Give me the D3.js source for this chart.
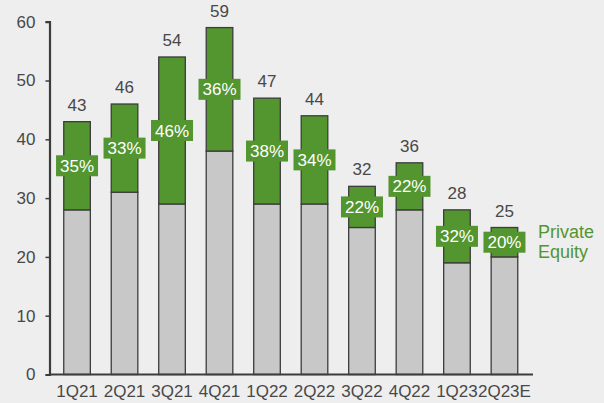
<!DOCTYPE html>
<html>
<head>
<meta charset="utf-8">
<script src="https://cdn.jsdelivr.net/npm/d3@7"></script>
<style>
  html, body { margin: 0; padding: 0; background: #eeeeee; }
  svg { display: block; font-family: "Liberation Sans", Arial, sans-serif; }
</style>
</head>
<body>
<svg id="chart" width="604" height="403"></svg>
<script>
// Quarterly totals, with the non-PE base and the private equity share
const quarters = ["1Q21", "2Q21", "3Q21", "4Q21", "1Q22", "2Q22", "3Q22", "4Q22", "1Q23", "2Q23E"];
const totals   = [43, 46, 54, 59, 47, 44, 32, 36, 28, 25];
const baseVals = [28, 31, 29, 38, 29, 29, 25, 28, 19, 20];
const peShare  = ["35%", "33%", "46%", "36%", "38%", "34%", "22%", "22%", "32%", "20%"];
const yTicks   = [0, 10, 20, 30, 40, 50, 60];

const svg = d3.select("#chart");
const green = "#53952f", grey = "#c8c8c8", ink = "#484848", edge = "#3c3c3c";

const x = d3.scaleBand().domain(quarters).range([49.5, 532]).paddingInner(0.44).paddingOuter(0.3);
const y = d3.scaleLinear().domain([0, 60]).range([374.5, 21.7]);

const rows = quarters.map((q, i) => ({ q, total: totals[i], base: baseVals[i], share: peShare[i] }));

// Y axis
const yAxis = svg.append("g").attr("transform", "translate(49.5,0)")
  .call(d3.axisLeft(y).tickValues(yTicks).tickSize(4).tickPadding(10));
yAxis.select(".domain").attr("stroke", edge).attr("stroke-width", 2.2);
yAxis.selectAll(".tick line").attr("stroke", edge).attr("stroke-width", 1.5);
yAxis.selectAll(".tick text").attr("fill", ink).style("font-size", "17px")
  .style("font-family", "Liberation Sans, Arial, sans-serif");

// Bars: grey base then green PE segment
const g = svg.append("g");
g.selectAll("rect.base").data(rows).join("rect")
  .attr("class", "base")
  .attr("x", d => x(d.q)).attr("width", x.bandwidth())
  .attr("y", d => y(d.base)).attr("height", d => y(0) - y(d.base))
  .attr("fill", grey).attr("stroke", edge).attr("stroke-width", 1.3);
g.selectAll("rect.pe").data(rows).join("rect")
  .attr("class", "pe")
  .attr("x", d => x(d.q)).attr("width", x.bandwidth())
  .attr("y", d => y(d.total)).attr("height", d => y(d.base) - y(d.total))
  .attr("fill", green).attr("stroke", edge).attr("stroke-width", 1.3);

// X axis baseline and category labels
svg.append("line").attr("x1", 49.5).attr("x2", 533).attr("y1", y(0)).attr("y2", y(0))
  .attr("stroke", edge).attr("stroke-width", 2.2);
svg.append("g").selectAll("text").data(rows).join("text")
  .attr("x", d => x(d.q) + x.bandwidth() / 2).attr("y", 397)
  .attr("text-anchor", "middle").attr("fill", ink).style("font-size", "17px")
  .text(d => d.q);

// Totals above bars
svg.append("g").selectAll("text").data(rows).join("text")
  .attr("x", d => x(d.q) + x.bandwidth() / 2).attr("y", d => y(d.total) - 11)
  .attr("text-anchor", "middle").attr("fill", ink).style("font-size", "17px")
  .text(d => d.total);

// PE share badges centred on the green segment
const badge = svg.append("g").selectAll("g").data(rows).join("g")
  .attr("transform", d => `translate(${x(d.q) + x.bandwidth() / 2},${(y(d.total) + y(d.base)) / 2})`);
badge.append("rect").attr("x", -21).attr("y", -10.5).attr("width", 42).attr("height", 21).attr("fill", green);
badge.append("text").attr("text-anchor", "middle").attr("dy", "0.36em")
  .attr("fill", "#ffffff").style("font-size", "17px").text(d => d.share);

// Series label
const lab = svg.append("text").attr("x", 538).attr("fill", green).style("font-size", "18px");
lab.append("tspan").attr("x", 538).attr("y", 238).text("Private");
lab.append("tspan").attr("x", 538).attr("y", 257.5).text("Equity");
</script>
</body>
</html>
